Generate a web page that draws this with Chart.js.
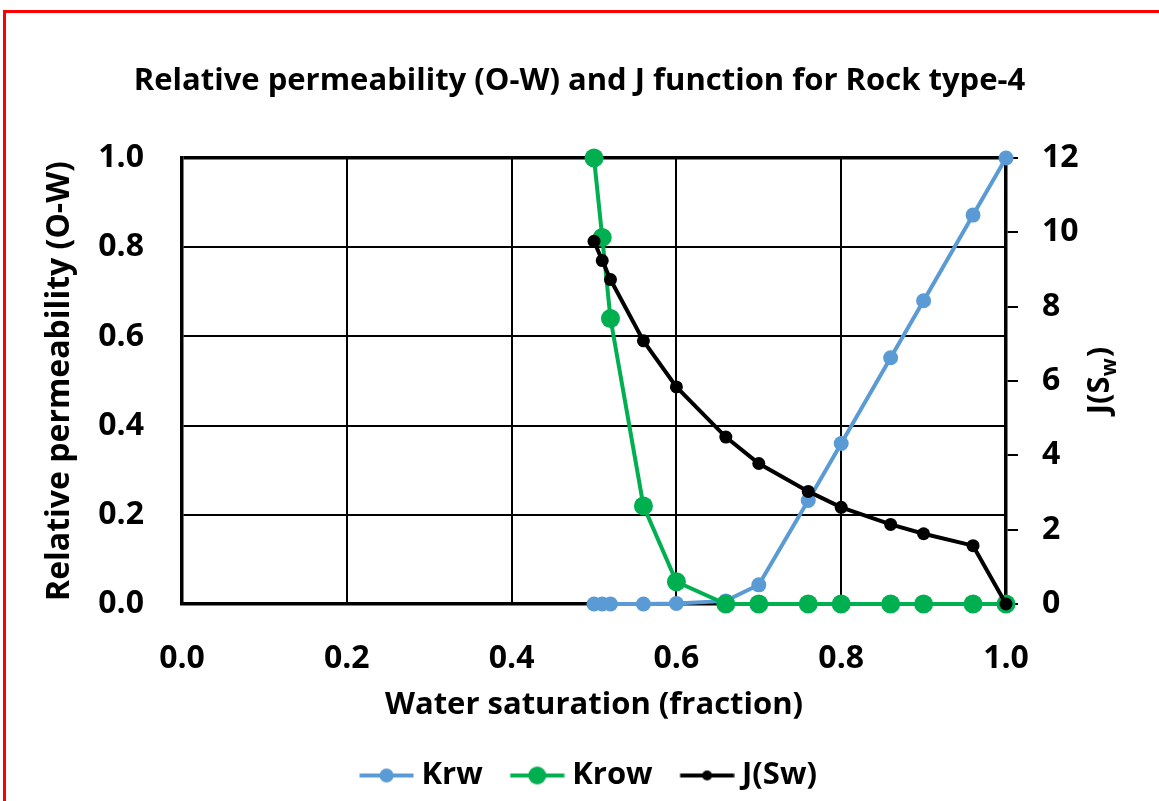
<!DOCTYPE html>
<html>
<head>
<meta charset="utf-8">
<script src="https://cdn.jsdelivr.net/npm/chart.js@4.4.1/dist/chart.umd.min.js"></script>
<style>
  html, body { margin: 0; padding: 0; background: #fff; }
  #wrap { position: relative; width: 1159px; height: 801px; }
  #frame { position: absolute; left: 3px; top: 10px; right: -10px; bottom: -10px;
           border-left: 3px solid #ff0000; border-top: 3px solid #ff0000; pointer-events: none; }
</style>
</head>
<body>
<div id="wrap">
  <canvas id="myChart" width="1159" height="801"></canvas>
  <div id="frame"></div>
</div>
<script>
// data
const sw = [0.50, 0.51, 0.52, 0.56, 0.60, 0.66, 0.70, 0.76, 0.80, 0.86, 0.90, 0.96, 1.00];
const krw = [0, 0, 0, 0, 0.001, 0.007, 0.043, 0.232, 0.36, 0.552, 0.68, 0.872, 1.0];
const krow = [1.0, 0.822, 0.64, 0.22, 0.05, 0, 0, 0, 0, 0, 0, 0, 0];
const jsw = [9.76, 9.24, 8.73, 7.08, 5.84, 4.49, 3.78, 3.03, 2.6, 2.14, 1.89, 1.57, 0];

const leftTicks = [0, 0.2, 0.4, 0.6, 0.8, 1.0];
const rightTicks = [0, 2, 4, 6, 8, 10, 12];
const xTicks = [0, 0.2, 0.4, 0.6, 0.8, 1.0];

const FONT = '"Open Sans"';

function pts(xs, ys) {
  return xs.map((v, i) => ({x: v, y: ys[i]}));
}

// legend icon: line with a dot in the middle
function legendIcon(color, r) {
  const c = document.createElement('canvas');
  c.width = 80; c.height = 30;
  const g = c.getContext('2d');
  g.strokeStyle = color;
  g.lineWidth = 4;
  g.beginPath(); g.moveTo(25.5, 15); g.lineTo(79.5, 15); g.stroke();
  g.fillStyle = color;
  g.beginPath(); g.arc(52.5, 15, r, 0, Math.PI * 2); g.fill();
  return c;
}
const icons = [legendIcon('#5B9BD5', 7), legendIcon('#00B050', 9), legendIcon('#000000', 5)];

// right axis title with subscript w
const jTitle = {
  id: 'jTitle',
  afterDraw(chart) {
    const ctx = chart.ctx;
    const yc = (chart.chartArea.top + chart.chartArea.bottom) / 2;
    ctx.save();
    ctx.translate(1100, yc);
    ctx.rotate(-Math.PI / 2);
    ctx.fillStyle = '#000';
    ctx.textBaseline = 'middle';
    ctx.font = 'bold 31px ' + FONT;
    const a = 'J(S', b = 'w', c = ')';
    const wa = ctx.measureText(a).width;
    const wc = ctx.measureText(c).width;
    ctx.font = 'bold 21px ' + FONT;
    const wb = ctx.measureText(b).width;
    let x = -(wa + wb + wc) / 2;
    ctx.font = 'bold 31px ' + FONT;
    ctx.fillText(a, x, 0);
    ctx.font = 'bold 21px ' + FONT;
    ctx.fillText(b, x + wa, 10);
    ctx.font = 'bold 31px ' + FONT;
    ctx.fillText(c, x + wa + wb + 1, 0);
    ctx.restore();
  }
};

const config = {
  type: 'line',
  data: {
    datasets: [{
      label: 'Krw',
      data: pts(sw, krw),
      borderColor: '#5B9BD5',
      backgroundColor: '#5B9BD5',
      borderWidth: 4,
      pointRadius: 7.5,
      pointBorderWidth: 0,
      yAxisID: 'y',
      clip: false,
      order: 3
    }, {
      label: 'Krow',
      data: pts(sw, krow),
      borderColor: '#00B050',
      backgroundColor: '#00B050',
      borderWidth: 4,
      pointRadius: 9.5,
      pointBorderWidth: 0,
      yAxisID: 'y',
      clip: false,
      order: 2
    }, {
      label: 'J(Sw)',
      data: pts(sw, jsw),
      borderColor: '#000000',
      backgroundColor: '#000000',
      borderWidth: 4,
      pointRadius: 6.5,
      pointBorderWidth: 0,
      yAxisID: 'y2',
      clip: false,
      order: 1
    }]
  },
  plugins: [jTitle],
  options: {
    responsive: false,
    animation: false,
    layout: { padding: 0 },
    plugins: {
      tooltip: { enabled: false },
      title: {
        display: true,
        text: 'Relative permeability (O-W) and J function for Rock type-4',
        color: '#000',
        font: { family: FONT, size: 31, weight: 'bold', lineHeight: 1 },
        padding: { top: 66, bottom: 61 }
      },
      legend: {
        position: 'bottom',
        labels: {
          color: '#000',
          font: { family: FONT, size: 31, weight: 'bold' },
          usePointStyle: true,
          pointStyleWidth: 64,
          boxHeight: 31,
          padding: 10,
          generateLabels(chart) {
            return chart.data.datasets.map((ds, i) => ({
              text: ds.label,
              pointStyle: icons[i],
              fillStyle: 'transparent',
              strokeStyle: 'transparent',
              lineWidth: 0,
              hidden: false,
              datasetIndex: i,
              fontColor: '#000'
            }));
          }
        }
      }
    },
    scales: {
      x: {
        type: 'linear',
        min: 0, max: 1,
        afterFit(s) { s.height = 146; },
        afterBuildTicks(s) { s.ticks = xTicks.map(v => ({value: v})); },
        ticks: {
          color: '#000',
          font: { family: FONT, size: 32, weight: 'bold' },
          padding: 36,
          callback: v => v.toFixed(1)
        },
        grid: { color: '#000', lineWidth: 2, drawTicks: false },
        border: { color: '#000', width: 3.5 },
        title: {
          display: true,
          text: 'Water saturation (fraction)',
          color: '#000',
          font: { family: FONT, size: 31, weight: 'bold', lineHeight: 1 },
          padding: { top: 0, bottom: 29 }
        }
      },
      y: {
        position: 'left',
        min: 0, max: 1,
        afterFit(s) { s.width = 182; },
        afterBuildTicks(s) { s.ticks = leftTicks.map(v => ({value: v})); },
        ticks: {
          color: '#000',
          font: { family: FONT, size: 32, weight: 'bold' },
          padding: 38,
          callback: v => v.toFixed(1)
        },
        grid: {
          color: '#000',
          lineWidth: c => (c.tick && c.tick.value === 1 ? 3.5 : 2),
          drawTicks: false
        },
        border: { color: '#000', width: 3.5 },
        title: {
          display: true,
          text: 'Relative permeability (O-W)',
          color: '#000',
          font: { family: FONT, size: 32, weight: 'bold', lineHeight: 1 },
          padding: { top: 44, bottom: 0 }
        }
      },
      y2: {
        position: 'right',
        min: 0, max: 12,
        afterFit(s) { s.width = 153; },
        afterBuildTicks(s) { s.ticks = rightTicks.map(v => ({value: v})); },
        ticks: {
          color: '#000',
          font: { family: FONT, size: 32, weight: 'bold' },
          padding: 24
        },
        grid: { drawOnChartArea: false, color: '#000', lineWidth: 2, tickLength: 12 },
        border: { color: '#000', width: 3.5 }
      }
    }
  }
};

const myChart = new Chart(document.getElementById('myChart'), config);
</script>
</body>
</html>
